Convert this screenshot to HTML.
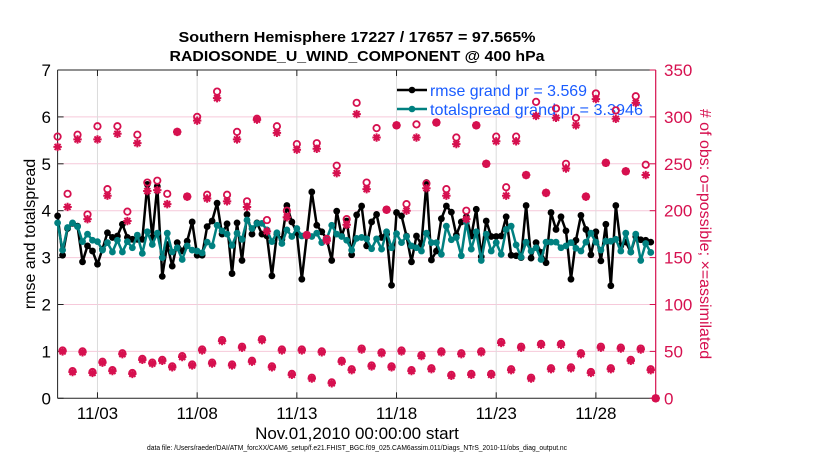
<!DOCTYPE html>
<html><head><meta charset="utf-8"><style>
html,body{margin:0;padding:0;background:#fff;width:830px;height:470px;overflow:hidden}
svg{display:block;font-family:"Liberation Sans",Arial,sans-serif}
</style></head><body>
<svg id="chart" width="830" height="470" viewBox="0 0 830 470" xmlns="http://www.w3.org/2000/svg">
<text x="357" y="42" text-anchor="middle" font-size="15" font-weight="bold" textLength="357" lengthAdjust="spacingAndGlyphs">Southern Hemisphere 17227 / 17657 = 97.565%</text>
<text x="357" y="61" text-anchor="middle" font-size="15" font-weight="bold" textLength="375" lengthAdjust="spacingAndGlyphs">RADIOSONDE_U_WIND_COMPONENT @ 400 hPa</text>
<g id="grid"></g>
<g id="axes"></g>
<g id="series"></g>
<g id="legend">
  <line x1="397" y1="90" x2="427" y2="90" stroke="#000" stroke-width="2.5"/>
  <circle cx="412" cy="90" r="3.3" fill="#000"/>
  <text x="430" y="96" font-size="16" fill="#1a5cff" textLength="157" lengthAdjust="spacingAndGlyphs">rmse grand pr = 3.569</text>
  <line x1="397" y1="109" x2="427" y2="109" stroke="#008080" stroke-width="2.5"/>
  <circle cx="412" cy="109" r="3.3" fill="#008080"/>
  <text x="430" y="115" font-size="16" fill="#1a5cff" textLength="213" lengthAdjust="spacingAndGlyphs">totalspread grand pr = 3.3946</text>
</g>
<g id="obs"></g>
<text transform="translate(35,234) rotate(-90)" text-anchor="middle" font-size="16">rmse and totalspread</text>
<text transform="translate(700,234) rotate(90)" text-anchor="middle" font-size="16" fill="#d6104f"> # of obs: o=possible; ×=assimilated</text>
<text x="357" y="439" text-anchor="middle" font-size="17">Nov.01,2010 00:00:00 start</text>
<text x="357" y="450" text-anchor="middle" font-size="7.5" textLength="420" lengthAdjust="spacingAndGlyphs">data file: /Users/raeder/DAI/ATM_forcXX/CAM6_setup/f.e21.FHIST_BGC.f09_025.CAM6assim.011/Diags_NTrS_2010-11/obs_diag_output.nc</text>
</svg>
<script>
const xTickDays = [2, 7, 12, 17, 22, 27];
const xTickLabels = ["11/03", "11/08", "11/13", "11/18", "11/23", "11/28"];
const leftTicks = [0, 1, 2, 3, 4, 5, 6, 7];
const rightTicks = [0, 50, 100, 150, 200, 250, 300, 350];
const rmse = [3.89,3.05,3.62,3.73,3.67,2.91,3.25,3.14,2.86,3.18,
3.53,3.43,3.46,3.71,3.43,3.39,3.39,3.39,4.56,3.43,
4.52,2.60,3.28,2.82,3.32,3.14,3.35,3.76,3.05,3.05,
3.66,3.78,4.16,3.50,3.72,2.66,3.74,2.94,3.92,3.50,
3.74,3.50,3.46,2.61,3.50,3.39,4.11,3.76,3.53,2.54,
3.46,4.40,3.69,3.55,3.40,2.94,3.99,3.46,3.78,3.06,
3.91,4.10,3.25,3.76,3.92,3.43,3.50,2.41,3.96,3.89,
3.46,2.91,3.46,3.28,4.60,2.95,3.14,3.83,4.10,3.97,
3.48,3.76,3.87,3.46,4.03,3.02,3.78,3.45,3.45,3.46,
3.87,3.05,3.04,3.00,4.11,2.99,3.32,3.11,2.89,3.96,
3.60,3.87,3.57,2.54,3.37,3.90,3.60,3.06,3.55,2.93,
3.71,2.40,4.11,3.25,3.33,3.12,3.45,3.38,3.37,3.33];
const spread = [3.74,3.16,3.64,3.74,3.66,3.34,3.50,3.37,3.34,3.16,
3.32,3.12,3.37,3.12,3.34,3.21,3.48,3.09,3.55,3.28,
3.52,3.00,3.52,3.12,3.21,2.96,3.25,3.16,3.14,3.10,
3.33,3.25,3.69,3.57,3.50,3.26,3.52,3.39,3.80,3.62,
3.73,3.73,3.59,3.34,3.53,3.30,3.59,3.45,3.62,3.46,
3.50,3.45,3.52,3.32,3.40,3.69,3.50,3.45,3.37,3.16,
3.41,3.43,3.40,3.19,3.40,3.18,3.55,3.21,3.51,3.32,
3.45,3.25,3.21,3.14,3.52,3.32,3.32,3.07,3.67,3.38,
3.43,3.04,3.76,3.18,3.55,2.94,3.50,3.14,3.32,3.07,
3.60,3.67,3.27,3.01,3.33,3.14,3.21,2.96,3.33,3.33,
3.33,3.21,3.25,3.32,3.20,3.14,3.33,3.52,3.33,3.16,
3.35,3.35,3.39,3.14,3.52,3.12,3.50,2.94,3.30,3.11];
const obsAssimilated = [268,50,204,28,276,49,191,27,276,38,
216,29,282,47,189,26,272,41,221,37,
222,40,207,33,284,44,215,35,296,51,
213,37,320,61,210,35,276,54,204,39,
297,62,178,33,283,51,193,25,265,51,
174,21,266,49,168,16,240,39,185,30,
303,52,223,34,278,48,201,33,291,50,
200,29,278,45,224,31,294,49,216,24,
271,47,191,25,291,49,250,25,274,59,
216,30,274,54,238,21,301,57,219,31,
299,57,245,32,291,47,215,27,319,54,
251,31,298,53,242,40,315,52,238,30,
0];
const obsPossible = [279,51,218,29,281,50,196,28,290,39,
223,30,290,48,199,27,281,42,230,38,
232,41,218,34,284,45,215,36,300,52,
217,38,327,62,217,36,284,55,210,40,
298,63,190,34,290,52,200,26,271,52,
174,22,272,50,170,17,248,40,191,31,
315,53,230,35,288,49,201,34,291,51,
207,30,292,46,229,32,294,50,223,25,
278,48,200,26,291,50,250,26,279,60,
225,31,279,55,238,22,316,58,219,32,
309,58,250,33,299,48,215,28,325,55,
251,32,307,54,242,41,322,53,249,31,
0];

const NS = "http://www.w3.org/2000/svg";
const L = 57.6, R = 655.7, T = 70, B = 398.3;
const xDays = 30, yLeftMax = 7, yRightMax = 350;
const stepDays = 0.25;
function xScale(d){ return L + d / xDays * (R - L); }
function yLeft(v){ return B - v / yLeftMax * (B - T); }
function yRight(v){ return B - v / yRightMax * (B - T); }
function mk(tag, attrs, parent){
  const e = document.createElementNS(NS, tag);
  for (const k in attrs) e.setAttribute(k, attrs[k]);
  parent.appendChild(e);
  return e;
}
const grid = document.getElementById('grid');
const axes = document.getElementById('axes');
const series = document.getElementById('series');
const obs = document.getElementById('obs');

rightTicks.forEach(v => {
  if (v === 0 || v === yRightMax) return;
  const g = mk('line', {x1: L, x2: R, y1: yRight(v), y2: yRight(v), stroke: '#f6c9da', 'stroke-width': 1}, grid);
  
  
});
xTickDays.forEach((d, k) => {
  const g = mk('line', {x1: xScale(d), x2: xScale(d), y1: T, y2: B, stroke: '#dcdcdc', 'stroke-width': 1}, grid);
  
  
  mk('line', {x1: xScale(d), x2: xScale(d), y1: B, y2: B - 6, stroke: '#222', 'stroke-width': 1}, axes);
  mk('line', {x1: xScale(d), x2: xScale(d), y1: T, y2: T + 6, stroke: '#222', 'stroke-width': 1}, axes);
  const t = mk('text', {x: xScale(d), y: 419, 'text-anchor': 'middle', 'font-size': 17}, axes);
  t.textContent = xTickLabels[k];
  
  
});
mk('line', {x1: L, x2: R, y1: T, y2: T, stroke: '#222', 'stroke-width': 1}, axes);
mk('line', {x1: L, x2: R, y1: B, y2: B, stroke: '#222', 'stroke-width': 1}, axes);
mk('line', {x1: L, x2: L, y1: T, y2: B, stroke: '#222', 'stroke-width': 1}, axes);
mk('line', {x1: R, x2: R, y1: T, y2: B, stroke: '#d6104f', 'stroke-width': 1.2}, axes);
leftTicks.forEach(v => {
  mk('line', {x1: L, x2: L + 6, y1: yLeft(v), y2: yLeft(v), stroke: '#222', 'stroke-width': 1}, axes);
  const t = mk('text', {x: 51, y: yLeft(v) + 6, 'text-anchor': 'end', 'font-size': 17}, axes);
  t.textContent = v;
  
  
});
rightTicks.forEach(v => {
  mk('line', {x1: R, x2: R - 6, y1: yRight(v), y2: yRight(v), stroke: '#d6104f', 'stroke-width': 1}, axes);
  const t = mk('text', {x: 664, y: yRight(v) + 6, 'font-size': 17, fill: '#d6104f'}, axes);
  t.textContent = v;
  
  
});

function drawLine(vals, color, name){
  const pts = vals.map((v, i) => xScale(i * stepDays).toFixed(2) + ',' + yLeft(v).toFixed(2)).join(' ');
  const pl = mk('polyline', {points: pts, fill: 'none', stroke: color, 'stroke-width': 2.5, 'stroke-linejoin': 'round'}, series);
  
  
  vals.forEach((v, i) => {
    const c = mk('circle', {cx: xScale(i * stepDays), cy: yLeft(v), r: 3.4, fill: color}, series);
    
    
  });
}
drawLine(rmse, '#000', 'rmse');
drawLine(spread, '#008080', 'totalspread');

const red = '#d6104f';
obsPossible.forEach((v, i) => {
  const c = mk('circle', {cx: xScale(i * stepDays), cy: yRight(v), r: 3.2, fill: 'none', stroke: red, 'stroke-width': 1.8}, obs);
  
  
});
obsAssimilated.forEach((v, i) => {
  const cx = xScale(i * stepDays), cy = yRight(v), s = 4.2, d = 3.0;
  const g = mk('path', {d: `M${cx-s},${cy}H${cx+s}M${cx},${cy-s}V${cy+s}M${cx-d},${cy-d}L${cx+d},${cy+d}M${cx-d},${cy+d}L${cx+d},${cy-d}`, stroke: red, 'stroke-width': 2, fill: 'none'}, obs);
  
  
});
</script>
</body></html>
